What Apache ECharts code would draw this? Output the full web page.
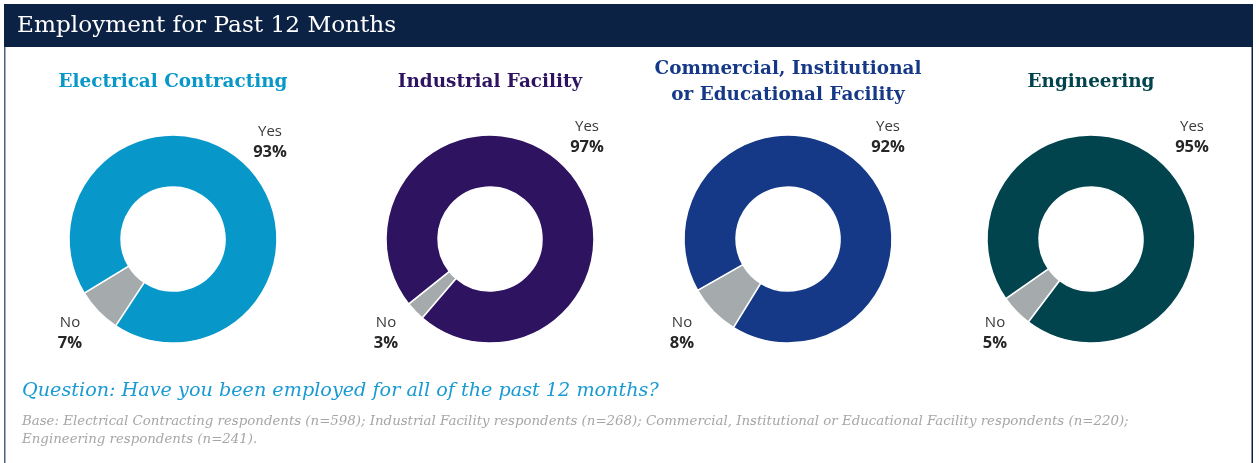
<!DOCTYPE html>
<html>
<head>
<meta charset="utf-8">
<script src="https://cdn.jsdelivr.net/npm/echarts@6/dist/echarts.min.js"></script>
<style>
  html, body { margin: 0; padding: 0; background: #ffffff; }
  #chart { width: 1259px; height: 463px; }
</style>
</head>
<body>
<div id="chart"></div>
<script>
// ---- data ----
const headline = 'Employment for Past 12 Months';
const categories = [
  'Electrical Contracting',
  'Industrial Facility',
  'Commercial, Institutional\nor Educational Facility',
  'Engineering'
];
const answers = ['No', 'Yes'];
const yesShare = [93, 97, 92, 95];
const noShare = [7, 3, 8, 5];
const question = 'Question: Have you been employed for all of the past 12 months?';
const baseNote = [
  'Base: Electrical Contracting respondents (n=598); Industrial Facility respondents (n=268); Commercial, Institutional or Educational Facility respondents (n=220);',
  'Engineering respondents (n=241).'
];

// ---- layout & style ----
const seriesColors = ['#0797c9', '#2e1360', '#153887', '#02444e'];
const noColor = '#a5abad';
const centersX = [173, 490, 788, 1091];
const centerY = 239;
const yesLabelOffset = [[97, -97], [97, -102], [100, -102], [101, -102]];
const noLabelOffset = [[-103, 94], [-104, 94], [-106, 94], [-96, 94]];
const serif = '"DejaVu Serif", "Liberation Serif", serif';
const sans = '"Open Sans", "Noto Sans", sans-serif';

const chart = echarts.init(document.getElementById('chart'), null, { renderer: 'canvas' });

const graphics = [
  // header bar
  { type: 'rect', shape: { x: 4, y: 4, width: 1249, height: 43 }, style: { fill: '#0c2244' }, silent: true },
  // side rules of the panel
  { type: 'line', shape: { x1: 4.75, y1: 47, x2: 4.75, y2: 463 }, style: { stroke: '#51607a', lineWidth: 1.5 }, silent: true },
  { type: 'line', shape: { x1: 1252.25, y1: 47, x2: 1252.25, y2: 463 }, style: { stroke: '#0c2244', lineWidth: 1.5 }, silent: true },
  { type: 'text', style: { text: headline, x: 17, y: 26, textVerticalAlign: 'middle', fill: '#ffffff', fontSize: 23.2, fontFamily: serif } },
  { type: 'text', style: { text: question, x: 22, y: 391, textVerticalAlign: 'middle', fill: '#1a9ad3', fontSize: 19.2, fontStyle: 'italic', fontFamily: serif } },
  { type: 'text', style: { text: baseNote.join('\n'), x: 22, y: 413, lineHeight: 18, textVerticalAlign: 'top', fill: '#a6a6a6', fontSize: 13.35, fontStyle: 'italic', fontFamily: serif } }
];

categories.forEach((name, i) => {
  graphics.push({
    type: 'text',
    style: {
      text: name, x: centersX[i], y: 82, textAlign: 'center', textVerticalAlign: 'middle',
      lineHeight: 26, fill: seriesColors[i], fontSize: 18.4, fontWeight: 'bold', fontFamily: serif
    }
  });
});

const series = categories.map((name, i) => ({
  type: 'pie',
  name: name,
  center: [centersX[i], centerY],
  radius: [52, 104],
  startAngle: 224 + noShare[i] * 1.8,
  clockwise: true,
  silent: true,
  animation: false,
  avoidLabelOverlap: false,
  itemStyle: { borderColor: '#ffffff', borderWidth: 1.5 },
  label: {
    show: true,
    position: 'outside',
    formatter: p => '{n|' + p.name + '}\n{v|' + p.value + '%}',
    rich: {
      n: { fontFamily: sans, fontSize: 15, color: '#3a3a3a', lineHeight: 20, align: 'center' },
      v: { fontFamily: sans, fontSize: 16.5, fontWeight: 'bold', color: '#262626', lineHeight: 20, align: 'center' }
    }
  },
  labelLine: { show: false },
  labelLayout: p => {
    const off = p.dataIndex === 0 ? noLabelOffset[i] : yesLabelOffset[i];
    return { x: centersX[i] + off[0], y: centerY + off[1], align: 'center', verticalAlign: 'middle' };
  },
  data: [
    { name: answers[0], value: noShare[i], itemStyle: { color: noColor } },
    { name: answers[1], value: yesShare[i], itemStyle: { color: seriesColors[i] } }
  ]
}));

chart.setOption({
  backgroundColor: '#ffffff',
  animation: false,
  graphic: graphics,
  series: series
});
</script>
</body>
</html>
